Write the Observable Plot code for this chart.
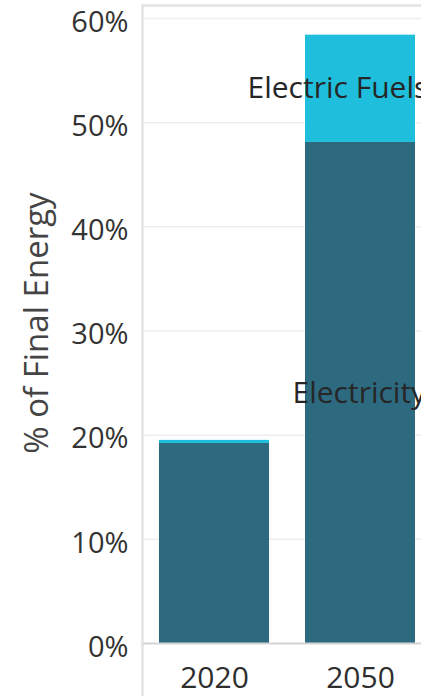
<!DOCTYPE html>
<html>
<head>
<meta charset="utf-8">
<script src="https://cdn.jsdelivr.net/npm/d3@7"></script>
<script src="https://cdn.jsdelivr.net/npm/@observablehq/plot@0.6"></script>
<style>
  html, body { margin: 0; padding: 0; background: #fff; }
  #chart svg { display: block; }
</style>
</head>
<body>
<div id="chart"></div>
<script>
// Share of final energy delivered as electricity and electric fuels
const years = ["2020", "2050"];
const series = ["Electricity", "Electric Fuels"];
const electricity = [19.2, 48.1];
const electricFuels = [0.3, 10.3];
const yTicks = [0, 10, 20, 30, 40, 50, 60];
const yTitle = "% of Final Energy";

const colors = {"Electricity": "#2d6a80", "Electric Fuels": "#1fbedc"};

const rows = years.flatMap((year, i) => [
  {year, series: "Electricity", value: electricity[i]},
  {year, series: "Electric Fuels", value: electricFuels[i]}
]);

const font = "'Open Sans', 'Noto Sans', sans-serif";

// series name centred in its stacked segment of the 2050 column
const seriesLabel = (name, dx) => Plot.text(rows.filter(d => d.year === "2050"), Plot.stackY({
  x: "year", y: "value", z: "series", order: series,
  text: d => (d.series === name ? d.series : null),
  textAnchor: "start", dx, fontSize: 30, fontWeight: 500, fill: "#262626"
}));

const chart = Plot.plot({
  width: 421,
  height: 696,
  marginLeft: 143,
  marginRight: 0,
  marginTop: 18,
  marginBottom: 53,
  style: {fontFamily: font, background: "#fff"},
  x: {domain: years, range: [143, 430], paddingInner: 0.25, paddingOuter: 0.102},
  y: {domain: [0, 60], ticks: yTicks},
  color: {domain: series, range: series.map(s => colors[s])},
  marks: [
    // outer chart border (left and top edges)
    Plot.frame({stroke: "#e3e3e3", strokeWidth: 2.5, insetTop: -13, insetBottom: -80, insetRight: -40, insetLeft: -1}),
    Plot.ruleY(yTicks.filter(d => d > 0), {stroke: "#eeeeee", strokeWidth: 1.5}),
    Plot.barY(rows, Plot.stackY({x: "year", y: "value", z: "series", fill: "series", order: series})),
    Plot.ruleY([0], {stroke: "#d4d4d4", strokeWidth: 2}),
    Plot.axisY({
      ticks: yTicks, tickSize: 0, tickPadding: 15, fontSize: 29, fontWeight: 500, dy: 4,
      tickFormat: d => d + "%", label: null, fill: "#333"
    }),
    Plot.axisX({tickSize: 0, tickPadding: 23, fontSize: 30, fontWeight: 500, label: null, fill: "#2e2e2e"}),
    Plot.text([yTitle], {
      frameAnchor: "left", textAnchor: "middle", dx: -106, dy: -8, rotate: -90, fontSize: 33,
      fontWeight: 500, fill: "#444", text: d => d
    }),
    // series names drawn on the 2050 column
    seriesLabel("Electricity", -68),
    seriesLabel("Electric Fuels", -113)
  ]
});

document.getElementById("chart").append(chart);
</script>
</body>
</html>
